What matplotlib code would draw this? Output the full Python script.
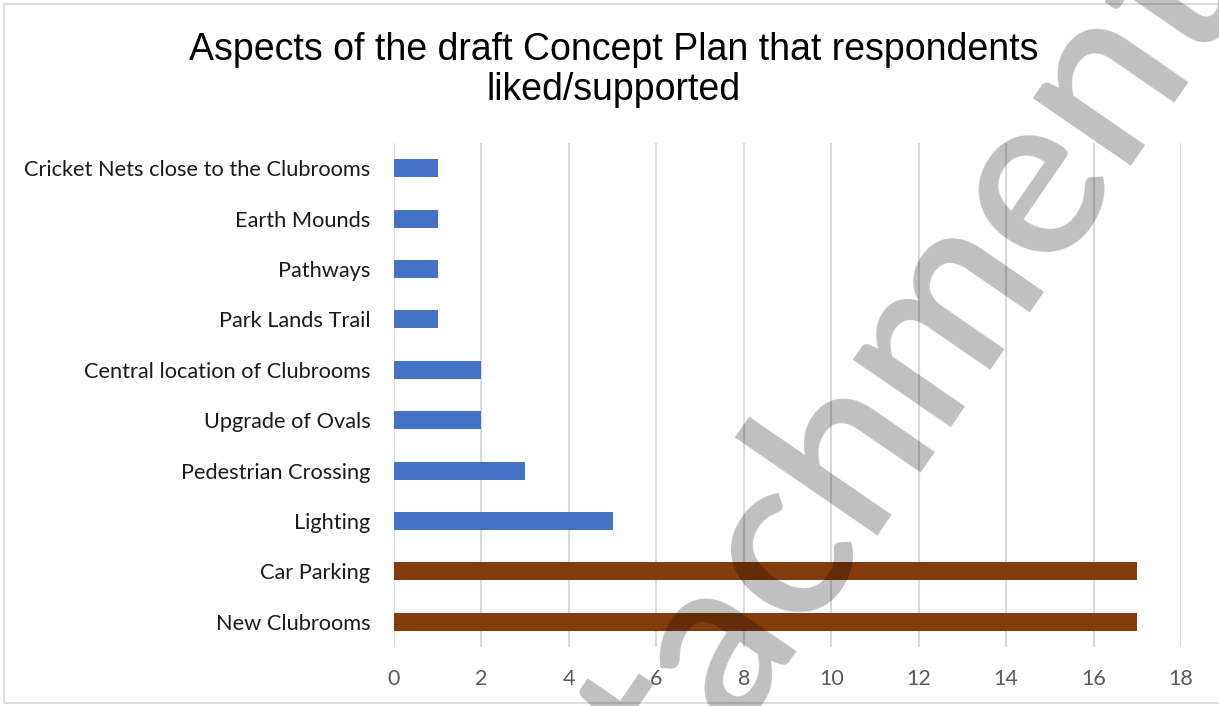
import math
import matplotlib
matplotlib.use("Agg")
import matplotlib.pyplot as plt
from matplotlib.patches import Rectangle
from matplotlib.textpath import TextPath
from matplotlib.font_manager import FontProperties

# Survey responses: aspects liked/supported (bottom to top)
categories = [
    "New Clubrooms",
    "Car Parking",
    "Lighting",
    "Pedestrian Crossing",
    "Upgrade of Ovals",
    "Central location of Clubrooms",
    "Park Lands Trail",
    "Pathways",
    "Earth Mounds",
    "Cricket Nets close to the Clubrooms",
]
counts = [17, 17, 5, 3, 2, 2, 1, 1, 1, 1]
highlight = [True, True, False, False, False, False, False, False, False, False]
x_ticks = [0, 2, 4, 6, 8, 10, 12, 14, 16, 18]

BLUE = "#4472C4"
BROWN = "#843C0C"

W, H = 1219, 706
DPI = 100
fig = plt.figure(figsize=(W / DPI, H / DPI), dpi=DPI)
fig.patch.set_facecolor("white")

ax = fig.add_axes([394 / W, 59 / H, 787 / W, 504 / H])
ypos = list(range(len(categories)))
colors = [BROWN if h else BLUE for h in highlight]
ax.barh(ypos, counts, height=0.36, color=colors, zorder=3)

ax.set_xlim(0, 18)
ax.set_ylim(-0.5, len(categories) - 0.5)
ax.set_xticks(x_ticks)
ax.set_xticklabels([str(t) for t in x_ticks])
ax.set_yticks(ypos)
ax.set_yticklabels(categories)

for s in ax.spines.values():
    s.set_visible(False)
ax.grid(axis="x", color="#D9D9D9", linewidth=1.5, zorder=0)
ax.tick_params(axis="both", length=0)
ax.tick_params(axis="x", pad=16, labelsize=15.5, labelcolor="#595959")
ax.tick_params(axis="y", pad=17, labelsize=15.7, labelcolor="#1A1A1A")
for lbl in ax.get_xticklabels() + ax.get_yticklabels():
    lbl.set_family("Lato")

fig.text(0.5033, 1 - 70 / H,
         "Aspects of the draft Concept Plan that respondents\nliked/supported",
         ha="center", va="center", fontsize=27, family="Liberation Sans",
         color="black", linespacing=1.15)

# chart area border
fig.patches.append(Rectangle((4 / W, 3 / H), 1.0, 1 - 7 / H,
                             transform=fig.transFigure, fill=False,
                             edgecolor="#D9D9D9", linewidth=1.2))

# diagonal watermark, laid out so that the "c" and the "e" sit on two
# chosen points of the page (pixel coordinates, origin bottom-left)
WM_TEXT = "Attachment"
WM_FONT = FontProperties(family="Lato", weight="semibold")
c_pt = (790.0, H - 558.0)
e_pt = (1040.0, H - 195.0)


def glyph_centre(prefix, glyph, size):
    whole = TextPath((0, 0), prefix, size=size, prop=WM_FONT).get_extents()
    g = TextPath((0, 0), glyph, size=size, prop=WM_FONT).get_extents()
    return whole.x1 - g.width / 2, (g.y0 + g.y1) / 2


ref_size = 200.0
c0 = glyph_centre("Attac", "c", ref_size)
e0 = glyph_centre("Attachme", "e", ref_size)
k = (math.hypot(e_pt[0] - c_pt[0], e_pt[1] - c_pt[1])
     / math.hypot(e0[0] - c0[0], e0[1] - c0[1]))
size_px = ref_size * k
angle = math.degrees(math.atan2(e_pt[1] - c_pt[1], e_pt[0] - c_pt[0])
                     - math.atan2(e0[1] - c0[1], e0[0] - c0[0]))
th = math.radians(angle)
ox = c_pt[0] - k * (c0[0] * math.cos(th) - c0[1] * math.sin(th))
oy = c_pt[1] - k * (c0[0] * math.sin(th) + c0[1] * math.cos(th))

fig.text(ox / W, oy / H, WM_TEXT, rotation=angle,
         rotation_mode="anchor", ha="left", va="baseline",
         fontproperties=WM_FONT.copy(), fontsize=size_px * 72 / DPI,
         color="black", alpha=0.25, zorder=10)

fig.savefig("out.png", dpi=DPI, facecolor="white")
